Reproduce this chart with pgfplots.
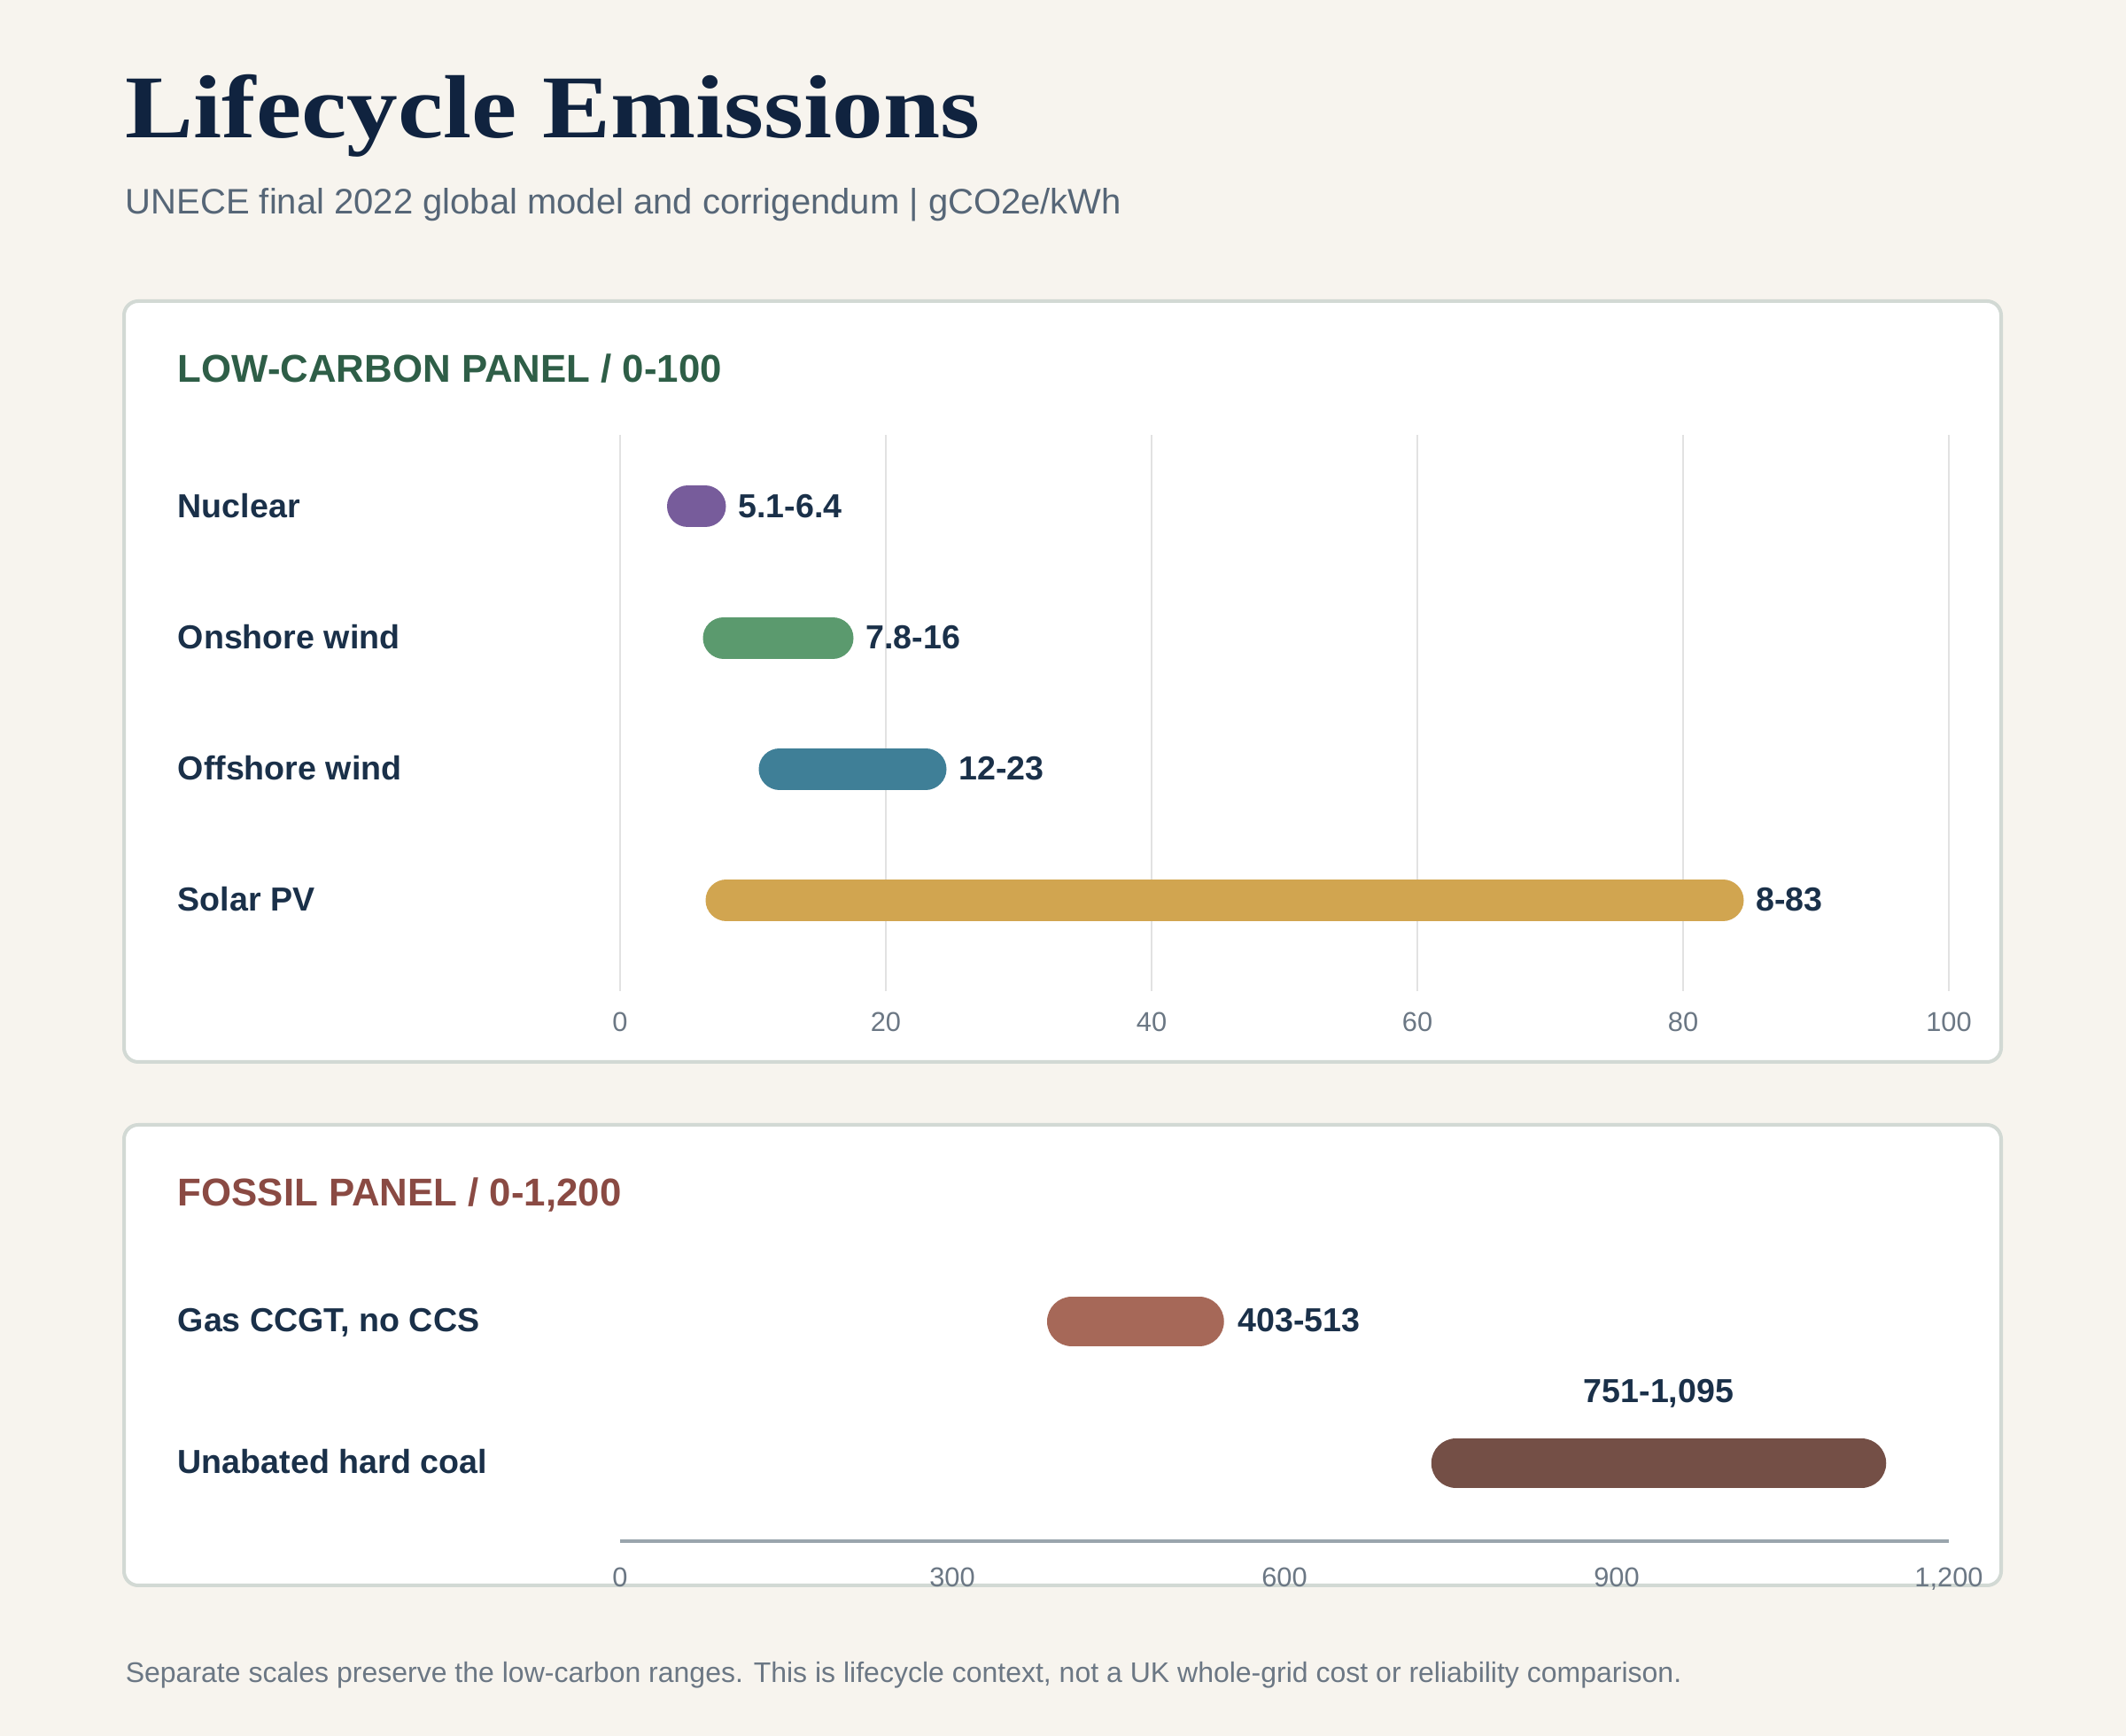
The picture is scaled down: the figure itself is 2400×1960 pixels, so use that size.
\documentclass[border=0pt]{standalone}
\usepackage{fontspec}
\setmainfont{Liberation Sans}
\newfontfamily\serifttl{Liberation Serif}
\usepackage{pgfplots}
\pgfplotsset{compat=1.18}
\definecolor{bg}{HTML}{F7F4EE}
\definecolor{panelc}{HTML}{D2D9D4}
\definecolor{titlec}{HTML}{10233F}
\definecolor{subc}{HTML}{566677}
\definecolor{greenh}{HTML}{2E5E47}
\definecolor{redh}{HTML}{8A4A43}
\definecolor{labc}{HTML}{1A3049}
\definecolor{tickc}{HTML}{6B7784}
\definecolor{gridc}{HTML}{E2E2E2}
\definecolor{axc}{HTML}{9AA5AD}
\definecolor{nuc}{HTML}{775C9B}
\definecolor{onw}{HTML}{5B9A6E}
\definecolor{offw}{HTML}{3F7F97}
\definecolor{sol}{HTML}{D1A550}
\definecolor{gas}{HTML}{A66858}
\definecolor{coal}{HTML}{744F46}
\begin{document}
\begin{tikzpicture}[x=0.25pt,y=0.25pt]
\fill[bg] (0,0) rectangle (2400,1960);
\node[anchor=base west, inner sep=0pt, text=titlec, font=\serifttl\bfseries\fontsize{25.3}{30}\selectfont] at (141,1804) {\scalebox{1.14}[1]{Lifecycle Emissions}};
\node[anchor=base west, inner sep=0pt, text=subc, font=\fontsize{10}{12}\selectfont] at (141,1718.3) {UNECE final 2022 global model and corrigendum | gCO2e/kWh};
\draw[panelc, line width=1pt, fill=white, rounded corners=4pt] (140,1620) rectangle (2259,761);
\draw[panelc, line width=1pt, fill=white, rounded corners=4pt] (140,690) rectangle (2259,170);
\node[anchor=base west, inner sep=0pt, text=greenh, font=\bfseries\fontsize{10.95}{13}\selectfont] at (200,1528.3) {LOW-CARBON PANEL / 0-100};
\node[anchor=base west, inner sep=0pt, text=redh, font=\bfseries\fontsize{10.95}{13}\selectfont] at (200,598.3) {FOSSIL PANEL / 0-1,200};
\node[anchor=base west, inner sep=0pt, text=tickc, font=\fontsize{8}{10}\selectfont] at (141,60) {Separate scales preserve the low-carbon ranges. This is lifecycle context, not a UK whole-grid cost or reliability comparison.};

\begin{axis}[
  at={(175pt,210.25pt)}, anchor=south west,
  width=375pt, height=157pt, scale only axis,
  xmin=0, xmax=100, ymin=-0.693, ymax=3.547,
  clip=false,
  axis line style={draw=none},
  major tick length=0pt,
  xtick={0,20,...,100},
  xmajorgrids, grid style={color=gridc, line width=0.5pt},
  ytick={0,1,2,3},
  yticklabels={Solar PV, Offshore wind, Onshore wind, Nuclear},
  /pgf/number format/assume math mode=true,
  xticklabel style={font=\fontsize{7.7}{9}\selectfont, text=tickc, anchor=north, inner sep=0pt, yshift=-5.75pt},
  yticklabel style={font=\bfseries\fontsize{9.4}{11}\selectfont, text=labc, anchor=base west, inner sep=0pt, xshift=-125pt, yshift=-3pt},
]
\addplot[mark=none, line width=11.75pt, line cap=round, color=nuc] coordinates {(5.1,3) (6.4,3)}
  node[pos=1, anchor=base west, inner sep=0pt, xshift=3.5pt, yshift=-3pt, text=labc, font=\bfseries\fontsize{9.4}{11}\selectfont] {5.1-6.4};
\addplot[mark=none, line width=11.75pt, line cap=round, color=onw] coordinates {(7.8,2) (16,2)}
  node[pos=1, anchor=base west, inner sep=0pt, xshift=3.5pt, yshift=-3pt, text=labc, font=\bfseries\fontsize{9.4}{11}\selectfont] {7.8-16};
\addplot[mark=none, line width=11.75pt, line cap=round, color=offw] coordinates {(12,1) (23,1)}
  node[pos=1, anchor=base west, inner sep=0pt, xshift=3.5pt, yshift=-3pt, text=labc, font=\bfseries\fontsize{9.4}{11}\selectfont] {12-23};
\addplot[mark=none, line width=11.75pt, line cap=round, color=sol] coordinates {(8,0) (83,0)}
  node[pos=1, anchor=base west, inner sep=0pt, xshift=3.5pt, yshift=-3pt, text=labc, font=\bfseries\fontsize{9.4}{11}\selectfont] {8-83};
\end{axis}

\begin{axis}[
  at={(175pt,55pt)}, anchor=south west,
  width=375pt, height=86pt, scale only axis,
  xmin=0, xmax=1200, ymin=-0.55, ymax=1.6,
  clip=false,
  axis x line*=bottom, axis y line*=left,
  x axis line style={color=axc, line width=1pt},
  y axis line style={draw=none},
  major tick length=0pt,
  xtick={0,300,...,1200},
  ytick={0,1},
  yticklabels={Unabated hard coal, {Gas CCGT, no CCS}},
  /pgf/number format/assume math mode=true,
  /pgf/number format/1000 sep={,},
  xticklabel style={font=\fontsize{7.7}{9}\selectfont, text=tickc, anchor=north, inner sep=0pt, yshift=-7.25pt},
  yticklabel style={font=\bfseries\fontsize{9.4}{11}\selectfont, text=labc, anchor=base west, inner sep=0pt, xshift=-125pt, yshift=-3pt},
]
\addplot[mark=none, line width=14pt, line cap=round, color=gas] coordinates {(408,1) (523,1)}
  node[pos=1, anchor=base west, inner sep=0pt, xshift=4pt, yshift=-3pt, text=labc, font=\bfseries\fontsize{9.4}{11}\selectfont] {403-513};
\addplot[mark=none, line width=14pt, line cap=round, color=coal] coordinates {(755,0) (1121,0)}
  node[pos=0.5, anchor=base, inner sep=0pt, yshift=17pt, text=labc, font=\bfseries\fontsize{9.4}{11}\selectfont] {751-1,095};
\end{axis}
\pgfresetboundingbox
\useasboundingbox (0,0) rectangle (2400,1960);
\end{tikzpicture}
\end{document}
